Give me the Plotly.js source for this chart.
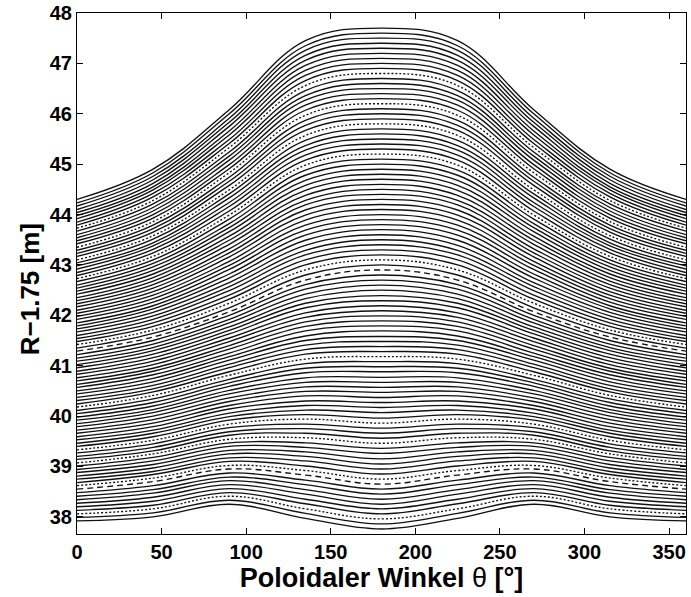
<!DOCTYPE html>
<html>
<head>
<meta charset="utf-8">
<script src="https://cdn.plot.ly/plotly-3.0.1.min.js"></script>
<style>html,body{margin:0;padding:0;background:#fff;}#chart{width:691px;height:597px;}</style>
</head>
<body>
<div id="chart"></div>
<script>
// Poloidal angle samples (degrees); curves are symmetric about 180°
const theta = [0, 45, 90, 135, 180, 225, 270, 315, 360];

// R-1.75 [m] of each of the 100 flux lines (bottom to top) at theta = 0/360
const r0 = [37.92,37.99,38.06,38.13,38.20,38.27,38.34,38.41,38.48,38.55,
38.62,38.68,38.75,38.81,38.88,38.94,39.01,39.07,39.14,39.20,
39.27,39.33,39.40,39.46,39.53,39.59,39.66,39.72,39.79,39.85,
39.92,39.98,40.05,40.11,40.18,40.24,40.31,40.37,40.44,40.50,
40.57,40.63,40.70,40.76,40.83,40.89,40.96,41.02,41.09,41.15,
41.22,41.29,41.35,41.42,41.48,41.54,41.60,41.67,41.73,41.79,
41.85,41.92,41.98,42.04,42.10,42.17,42.23,42.29,42.35,42.42,
42.48,42.54,42.60,42.67,42.73,42.79,42.85,42.92,42.98,43.04,
43.10,43.17,43.23,43.29,43.35,43.42,43.48,43.54,43.60,43.67,
43.73,43.79,43.85,43.92,43.98,44.04,44.10,44.17,44.23,44.30];
// at theta = 45/315
const r45 = [38.00,38.08,38.16,38.23,38.31,38.39,38.47,38.54,38.62,38.70,
38.77,38.84,38.90,38.97,39.04,39.11,39.18,39.25,39.31,39.38,
39.45,39.52,39.59,39.66,39.72,39.79,39.86,39.93,40.00,40.07,
40.13,40.20,40.27,40.34,40.41,40.48,40.54,40.61,40.68,40.75,
40.82,40.89,40.95,41.02,41.09,41.16,41.23,41.30,41.36,41.43,
41.50,41.57,41.64,41.71,41.78,41.85,41.92,41.99,42.06,42.13,
42.19,42.26,42.33,42.40,42.47,42.54,42.61,42.68,42.75,42.82,
42.89,42.96,43.03,43.10,43.17,43.24,43.31,43.38,43.44,43.51,
43.58,43.65,43.72,43.79,43.86,43.93,44.00,44.07,44.14,44.21,
44.28,44.35,44.42,44.49,44.55,44.62,44.69,44.76,44.83,44.90];
// at theta = 90/270
const r90 = [38.25,38.33,38.41,38.48,38.56,38.64,38.72,38.79,38.87,38.95,
39.02,39.10,39.17,39.25,39.32,39.40,39.47,39.54,39.62,39.69,
39.77,39.84,39.92,39.99,40.06,40.14,40.21,40.29,40.36,40.44,
40.51,40.59,40.66,40.73,40.81,40.88,40.96,41.03,41.11,41.18,
41.25,41.33,41.40,41.48,41.55,41.63,41.70,41.77,41.85,41.92,
42.00,42.07,42.15,42.24,42.32,42.40,42.49,42.57,42.65,42.74,
42.82,42.91,42.99,43.07,43.16,43.24,43.32,43.41,43.49,43.57,
43.66,43.74,43.82,43.91,43.99,44.07,44.16,44.24,44.33,44.41,
44.49,44.58,44.66,44.74,44.83,44.91,44.99,45.08,45.16,45.24,
45.33,45.41,45.49,45.58,45.66,45.75,45.83,45.91,46.00,46.08];
// at theta = 135/225
const r135 = [37.97,38.07,38.16,38.26,38.35,38.45,38.54,38.64,38.73,38.83,
38.92,39.01,39.11,39.20,39.29,39.38,39.47,39.57,39.66,39.75,
39.84,39.94,40.03,40.12,40.21,40.30,40.40,40.49,40.58,40.67,
40.76,40.86,40.95,41.04,41.13,41.23,41.32,41.41,41.50,41.59,
41.69,41.78,41.87,41.96,42.05,42.15,42.24,42.33,42.42,42.52,
42.61,42.70,42.80,42.90,43.00,43.10,43.20,43.29,43.39,43.49,
43.59,43.69,43.79,43.89,43.99,44.09,44.19,44.28,44.38,44.48,
44.58,44.68,44.78,44.88,44.98,45.08,45.18,45.28,45.37,45.47,
45.57,45.67,45.77,45.87,45.97,46.07,46.17,46.27,46.36,46.46,
46.56,46.66,46.76,46.86,46.96,47.06,47.16,47.26,47.35,47.45];
// at theta = 180
const r180 = [37.76,37.86,37.96,38.06,38.16,38.25,38.35,38.45,38.55,38.65,
38.75,38.85,38.95,39.05,39.15,39.26,39.36,39.46,39.56,39.66,
39.76,39.86,39.96,40.07,40.17,40.27,40.37,40.47,40.57,40.67,
40.77,40.88,40.98,41.08,41.18,41.28,41.38,41.48,41.58,41.69,
41.79,41.89,41.99,42.09,42.19,42.29,42.39,42.50,42.60,42.70,
42.80,42.90,43.00,43.10,43.20,43.30,43.40,43.50,43.60,43.70,
43.80,43.90,44.00,44.10,44.20,44.30,44.40,44.50,44.60,44.70,
44.80,44.90,45.00,45.10,45.20,45.30,45.40,45.50,45.60,45.70,
45.80,45.90,46.00,46.10,46.20,46.30,46.40,46.50,46.60,46.70,
46.80,46.90,47.00,47.10,47.20,47.30,47.40,47.50,47.60,47.70];

// line styles: indices of dotted and dashed lines
const dottedLines = [2, 10, 17, 21, 34, 53, 74, 80, 84, 90];
const dashedLines = [9, 51];

const xTicks = [0, 50, 100, 150, 200, 250, 300, 350];
const yTicks = [38, 39, 40, 41, 42, 43, 44, 45, 46, 47, 48];

const traces = [];
for (let i = 0; i < r0.length; i++) {
  const y = [r0[i], r45[i], r90[i], r135[i], r180[i], r135[i], r90[i], r45[i], r0[i]];
  let dash = 'solid';
  if (dottedLines.includes(i)) dash = '2px,2px';
  if (dashedLines.includes(i)) dash = '6px,4px';
  traces.push({
    x: theta, y: y, type: 'scatter', mode: 'lines',
    line: {color: '#111', width: 1.35, shape: 'spline', smoothing: 1.1, dash: dash},
    hoverinfo: 'skip', showlegend: false
  });
}

const font = {family: 'Liberation Sans, Arial, sans-serif', color: '#000'};
const layout = {
  width: 691, height: 597,
  margin: {l: 77, r: 5, t: 13, b: 63},
  paper_bgcolor: '#fff', plot_bgcolor: '#fff',
  showlegend: false,
  xaxis: {
    range: [0, 360], tickvals: xTicks, ticktext: xTicks.map(String),
    ticks: 'inside', ticklen: 6, tickwidth: 1, tickcolor: '#000',
    showline: true, linecolor: '#000', linewidth: 1, mirror: 'ticks',
    showgrid: false, zeroline: false,
    tickfont: Object.assign({size: 20, weight: 'bold'}, font),
    title: {text: 'Poloidaler Winkel <span style="font-weight:normal">θ</span> [°]', standoff: 3,
            font: Object.assign({size: 27, weight: 'bold'}, font)}
  },
  yaxis: {
    range: [37.66, 48], tickvals: yTicks, ticktext: yTicks.map(String),
    ticks: 'inside', ticklen: 6, tickwidth: 1, tickcolor: '#000',
    showline: true, linecolor: '#000', linewidth: 1, mirror: 'ticks',
    showgrid: false, zeroline: false,
    tickfont: Object.assign({size: 20, weight: 'bold'}, font),
    title: {text: ''}
  },
  annotations: [{
    text: 'R−1.75 [m]', textangle: -90, showarrow: false,
    xref: 'paper', yref: 'paper', x: -0.077, y: 0.47,
    xanchor: 'center', yanchor: 'middle',
    font: Object.assign({size: 26, weight: 'bold'}, font)
  }]
};

Plotly.newPlot('chart', traces, layout, {staticPlot: true, displayModeBar: false});
</script>
</body>
</html>
